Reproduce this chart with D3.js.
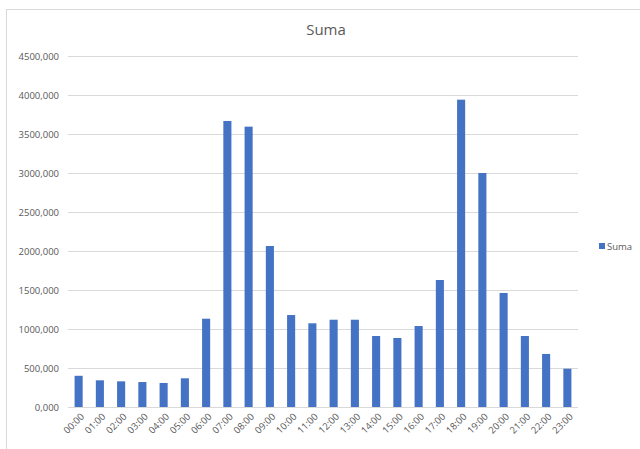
<!DOCTYPE html>
<html>
<head>
<meta charset="utf-8">
<script src="https://cdn.jsdelivr.net/npm/d3@7"></script>
<style>
  body { margin: 0; background: #fff; }
  svg text { font-family: "Open Sans", "Liberation Sans", sans-serif; }
</style>
</head>
<body>
<svg width="640" height="449"></svg>
<script>
// dane
const hours = ["00:00","01:00","02:00","03:00","04:00","05:00","06:00","07:00","08:00","09:00","10:00","11:00",
  "12:00","13:00","14:00","15:00","16:00","17:00","18:00","19:00","20:00","21:00","22:00","23:00"];
const suma = [400, 342, 329, 320, 308, 368, 1132, 3667, 3594, 2064, 1179, 1073,
  1119, 1119, 910, 885, 1038, 1628, 3940, 3000, 1462, 910, 680, 491];
const yTicks = [0, 500, 1000, 1500, 2000, 2500, 3000, 3500, 4000, 4500];
const seriesName = "Suma";

const svg = d3.select("svg");
const blue = "#4472c4";
const grey = "#595959";

// przecinek jako separator dziesiętny
const plLocale = d3.formatLocale({ decimal: ",", thousands: "", grouping: [3], currency: ["", ""] });
const fmt = plLocale.format(".3f");

// ramka wykresu
svg.append("rect")
  .attr("x", 6.5).attr("y", 9.5)
  .attr("width", 640).attr("height", 460)
  .attr("fill", "white")
  .attr("stroke", "#d9d9d9");

const plotLeft = 68, plotRight = 578, plotTop = 56, plotBottom = 407;

const x = d3.scaleBand().domain(hours).range([plotLeft, plotRight]).paddingInner(0.62).paddingOuter(0.31);
const y = d3.scaleLinear().domain([0, 4500]).range([plotBottom, plotTop]);

// siatka
svg.append("g")
  .selectAll("line")
  .data(yTicks)
  .join("line")
  .attr("x1", plotLeft).attr("x2", plotRight)
  .attr("y1", d => y(d) + 0.5).attr("y2", d => y(d) + 0.5)
  .attr("stroke", "#d9d9d9")
  .attr("stroke-width", 1);

// oś Y
const yAxis = svg.append("g")
  .attr("transform", `translate(${plotLeft - 6},0)`)
  .call(d3.axisLeft(y).tickValues(yTicks).tickFormat(fmt).tickSize(0));
yAxis.select(".domain").remove();
yAxis.selectAll("text")
  .attr("fill", grey)
  .style("font-size", "9.5px");

// słupki
svg.append("g")
  .selectAll("rect")
  .data(suma)
  .join("rect")
  .attr("x", (d, i) => x(hours[i]))
  .attr("y", d => y(d))
  .attr("width", x.bandwidth())
  .attr("height", d => y(0) - y(d))
  .attr("fill", blue);

// oś X
const xAxis = svg.append("g")
  .attr("transform", `translate(0,${plotBottom})`)
  .call(d3.axisBottom(x).tickSize(0));
xAxis.select(".domain").remove();
xAxis.selectAll("text")
  .attr("fill", grey)
  .style("font-size", "9.5px")
  .attr("text-anchor", "end")
  .attr("dy", 0)
  .attr("transform", "translate(4,8) rotate(-45)");

// tytuł
svg.append("text")
  .attr("x", 326).attr("y", 35)
  .attr("text-anchor", "middle")
  .attr("fill", grey)
  .style("font-size", "15px")
  .text(seriesName);

// legenda
svg.append("rect")
  .attr("x", 599).attr("y", 243)
  .attr("width", 6).attr("height", 6)
  .attr("fill", blue);
svg.append("text")
  .attr("x", 607).attr("y", 249.5)
  .attr("fill", grey)
  .style("font-size", "9.5px")
  .text(seriesName);
</script>
</body>
</html>
